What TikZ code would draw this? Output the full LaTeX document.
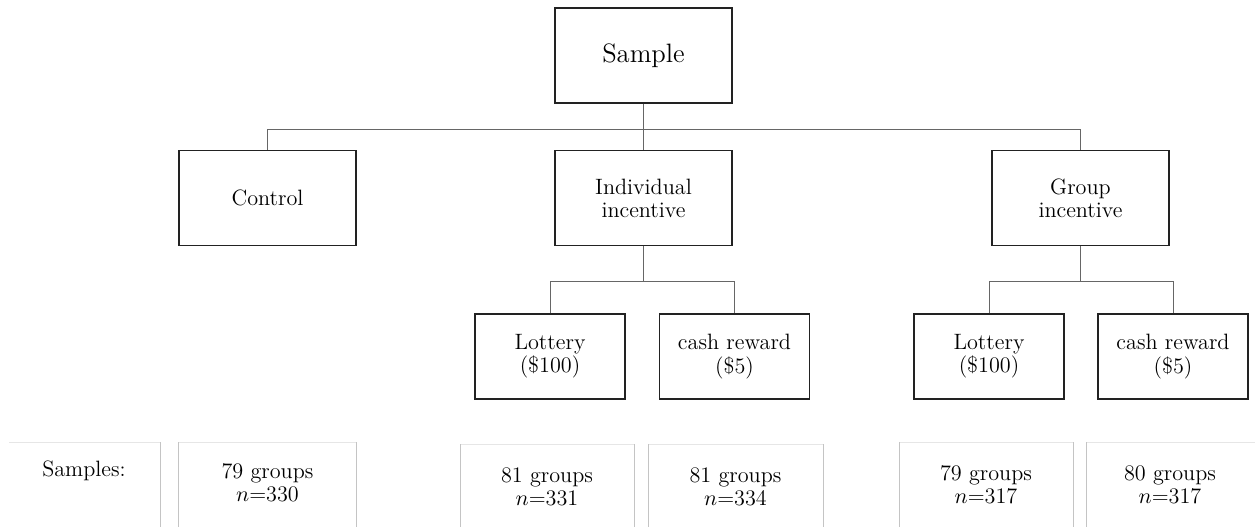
\documentclass[tikz,border=0pt]{standalone}
\usetikzlibrary{positioning}
\definecolor{boxline}{HTML}{222222}
\definecolor{conn}{HTML}{666666}
\definecolor{cellv}{HTML}{C4C4C4}
\definecolor{cellh}{HTML}{E6E6E6}
\tikzset{
  box/.style={draw=boxline, line width=0.65pt, rectangle, align=center, inner sep=0pt,
    font=\fontsize{11.1}{11.6}\selectfont},
  bigbox/.style={box, minimum width=88.5pt, minimum height=47.5pt},
  smallbox/.style={box, minimum width=75pt, minimum height=42.5pt},
  conn/.style={draw=conn, line width=0.45pt},
  celltext/.style={align=center, inner sep=0pt, font=\fontsize{11.1}{11.6}\selectfont},
  cellv/.style={draw=cellv, line width=0.5pt},
  cellh/.style={draw=cellh, line width=0.5pt},
}
\begin{document}
\begin{tikzpicture}[x=0.5pt, y=-0.5pt]
\useasboundingbox (0,0) rectangle (1255,527);
% level 0
\node[bigbox, font=\fontsize{13.3}{14}\selectfont] (sample) at (643.5,55.5) {Sample};
% level 1
\node[bigbox] (control) at (267.5,198) {Control};
\node[bigbox] (indiv) at (643.5,198) {Individual\\incentive};
\node[bigbox] (group) at (1080.5,198) {Group\\incentive};
% level 2
\node[smallbox] (lot1) at (550,356.5) {Lottery\\(\$100)};
\node[smallbox] (cash1) at (734.5,356.5) {cash reward\\(\$5)};
\node[smallbox] (lot2) at (989,356.5) {Lottery\\(\$100)};
\node[smallbox] (cash2) at (1173,356.5) {cash reward\\(\$5)};
% connectors
\coordinate (j1) at (643.5,129);
\coordinate (j2) at (643.5,281);
\coordinate (j3) at (1080.5,281);
\draw[conn] (sample.south) -- (j1);
\draw[conn] (j1) -- (indiv.north);
\draw[conn] (control.north) |- (j1);
\draw[conn] (group.north) |- (j1);
\draw[conn] (indiv.south) -- (j2);
\draw[conn] (lot1.north) |- (j2);
\draw[conn] (cash1.north) |- (j2);
\draw[conn] (group.south) -- (j3);
\draw[conn] (lot2.north) |- (j3);
\draw[conn] (cash2.north) |- (j3);
% bottom cells
\draw[cellh] (9,442) -- (160,442);
\draw[cellv] (160,442) -- (160,527);
\draw[cellh] (178,442) -- (356,442);
\draw[cellv] (178,442) -- (178,527);
\draw[cellv] (356,442) -- (356,527);
\draw[cellh] (460,444) -- (634,444);
\draw[cellv] (460,444) -- (460,527);
\draw[cellv] (634,444) -- (634,527);
\draw[cellh] (648,444) -- (823,444);
\draw[cellv] (648,444) -- (648,527);
\draw[cellv] (823,444) -- (823,527);
\draw[cellh] (899,442) -- (1073,442);
\draw[cellv] (899,442) -- (899,527);
\draw[cellv] (1073,442) -- (1073,527);
\draw[cellh] (1086,442) -- (1255,442);
\draw[cellv] (1086,442) -- (1086,527);
\node[celltext] (slabel) at (84,471) {Samples:};
\node[celltext] (s0) at (267.5,483) {79 groups\\$n$=330};
\node[celltext] (s1) at (547,487) {81 groups\\$n$=331};
\node[celltext] (s2) at (735.5,487) {81 groups\\$n$=334};
\node[celltext] (s3) at (986,485) {79 groups\\$n$=317};
\node[celltext] (s4) at (1170,485) {80 groups\\$n$=317};
\end{tikzpicture}
\end{document}
